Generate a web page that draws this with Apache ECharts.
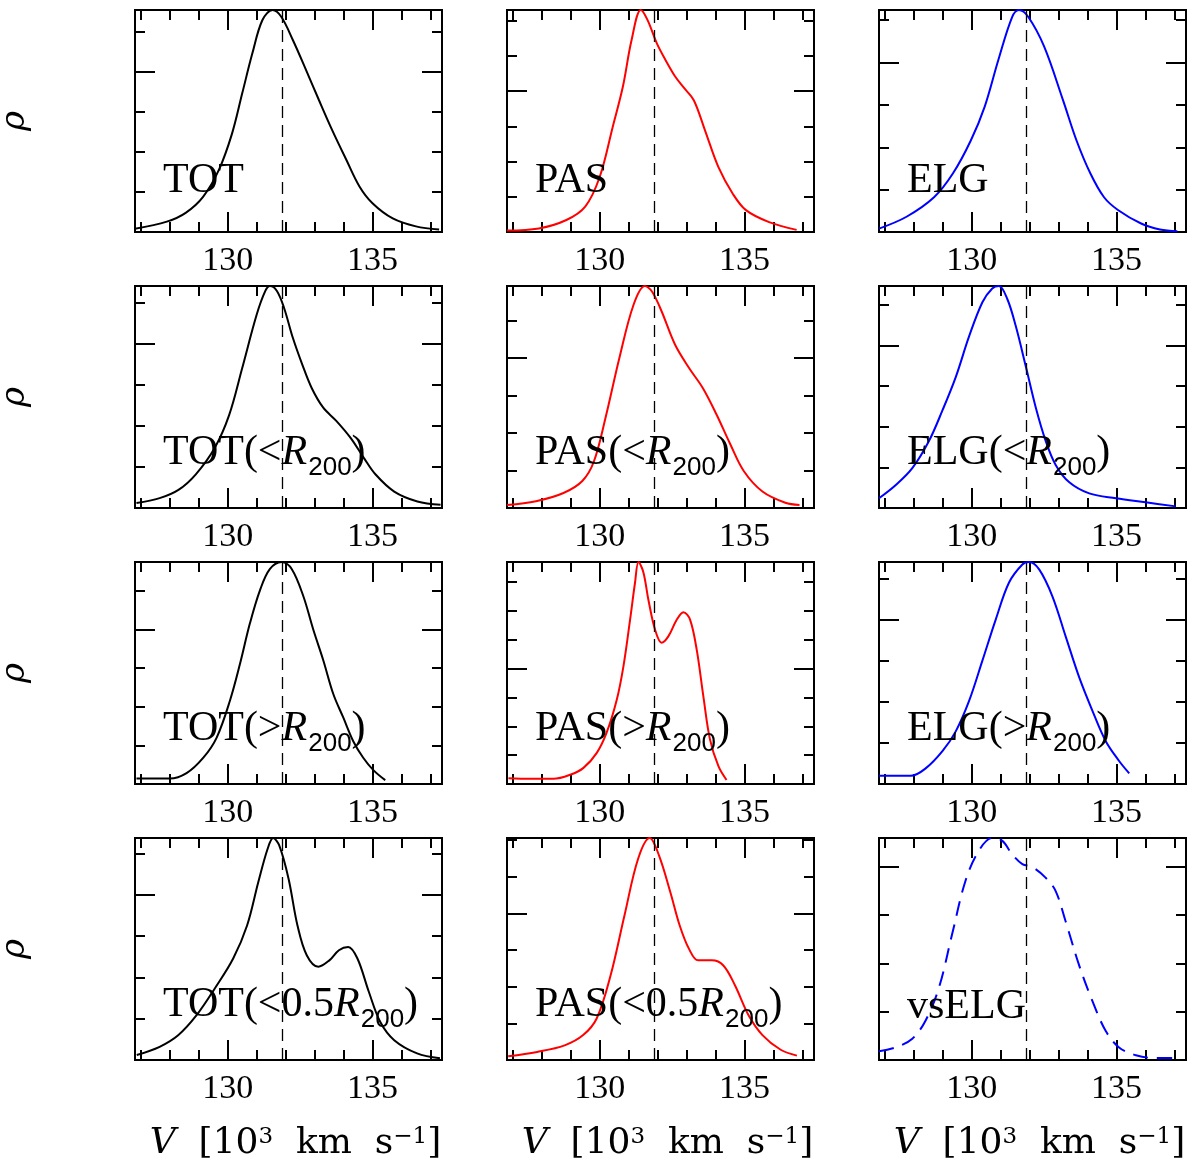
<!DOCTYPE html>
<html>
<head>
<meta charset="utf-8">
<title>Velocity distributions</title>
<style>
  html, body { margin: 0; padding: 0; background: #fff; }
  #chart { width: 1200px; height: 1168px; }
</style>
</head>
<body>
<div id="chart"></div>
<script src="https://cdn.jsdelivr.net/npm/echarts@6.0.0/dist/echarts.min.js"></script>
<script>
// velocity axis [10^3 km/s]
var vMin = 126.8, vMax = 137.4;
var vMean = 131.87;
var vMajorTicks = [130, 135];
var vMinorTicks = [127, 128, 129, 131, 132, 133, 134, 136, 137];

// rho axis: top of each panel (row by row), tick step, long tick step
var rhoMax = [0.2775, 0.315, 0.262, 0.27, 0.296, 0.273, 0.287, 0.385, 0.27, 0.269, 0.303, 0.23];
var rhoStep = 0.05;
var rhoMajorEvery = 4;

var panelNames = [
  '{m|TOT}', '{m|PAS}', '{m|ELG}',
  '{m|TOT(<}{i|R}{s|200}{m|)}', '{m|PAS(<}{i|R}{s|200}{m|)}', '{m|ELG(<}{i|R}{s|200}{m|)}',
  '{m|TOT(>}{i|R}{s|200}{m|)}', '{m|PAS(>}{i|R}{s|200}{m|)}', '{m|ELG(>}{i|R}{s|200}{m|)}',
  '{m|TOT(<0.5}{i|R}{s|200}{m|)}', '{m|PAS(<0.5}{i|R}{s|200}{m|)}', '{m|vsELG}'
];

// density curves
var vTot = [126.8, 127.9, 128.55, 129.15, 129.7, 130.15, 130.5, 130.85, 131.2, 131.55, 131.85, 132.25, 132.7, 133.15, 133.6, 134.1, 134.55, 135.0, 135.7, 136.5, 137.3];
var rhoTot = [0.004, 0.013, 0.024, 0.044, 0.078, 0.123, 0.173, 0.223, 0.265, 0.2775, 0.269, 0.240, 0.203, 0.165, 0.128, 0.090, 0.057, 0.036, 0.017, 0.007, 0.003];

var vPas = [126.8, 127.9, 128.85, 129.5, 130.0, 130.45, 130.8, 131.1, 131.42, 131.65, 131.97, 132.3, 132.6, 132.92, 133.25, 133.63, 134.1, 134.6, 135.05, 135.85, 136.8];
var rhoPas = [0.002, 0.005, 0.017, 0.036, 0.078, 0.149, 0.206, 0.272, 0.315, 0.301, 0.268, 0.242, 0.221, 0.204, 0.187, 0.145, 0.092, 0.054, 0.031, 0.014, 0.003];

var vElg = [126.8, 127.75, 128.7, 129.35, 129.97, 130.45, 130.92, 131.4, 131.63, 131.95, 132.5, 133.15, 133.62, 134.1, 134.57, 135.05, 135.85, 136.5, 137.1];
var rhoElg = [0.004, 0.018, 0.041, 0.069, 0.108, 0.148, 0.203, 0.254, 0.262, 0.254, 0.219, 0.156, 0.108, 0.069, 0.041, 0.026, 0.010, 0.003, 0.001];

var vTotIn = [126.85, 127.65, 128.3, 128.9, 129.55, 130.05, 130.5, 131.0, 131.3, 131.46, 131.7, 131.95, 132.25, 132.57, 132.9, 133.3, 133.75, 134.25, 134.7, 135.1, 135.75, 136.55, 137.35];
var rhoTotIn = [0.006, 0.012, 0.022, 0.041, 0.073, 0.113, 0.170, 0.235, 0.264, 0.270, 0.264, 0.243, 0.207, 0.175, 0.146, 0.122, 0.106, 0.085, 0.061, 0.041, 0.020, 0.008, 0.004];

var vPasIn = [126.8, 127.8, 128.75, 129.4, 129.8, 130.2, 130.68, 131.17, 131.56, 131.8, 132.13, 132.6, 133.08, 133.56, 134.03, 134.51, 134.98, 135.62, 136.41, 136.9];
var rhoPasIn = [0.004, 0.009, 0.020, 0.036, 0.062, 0.120, 0.200, 0.271, 0.296, 0.289, 0.263, 0.218, 0.187, 0.160, 0.125, 0.085, 0.049, 0.022, 0.007, 0.004];

var vElgIn = [126.8, 127.37, 127.95, 128.52, 128.99, 129.45, 129.91, 130.37, 130.71, 130.94, 131.23, 131.52, 131.87, 132.21, 132.56, 132.9, 133.36, 134.06, 134.98, 136.01, 137.05];
var rhoElgIn = [0.012, 0.028, 0.049, 0.082, 0.120, 0.161, 0.211, 0.253, 0.270, 0.273, 0.257, 0.224, 0.174, 0.124, 0.082, 0.053, 0.032, 0.018, 0.012, 0.007, 0.002];

var vTotOut = [126.85, 128.0, 128.58, 129.16, 129.62, 130.08, 130.43, 130.77, 131.12, 131.46, 131.86, 132.21, 132.61, 132.96, 133.3, 133.65, 133.99, 134.34, 134.68, 135.03, 135.44];
var rhoTotOut = [0.007, 0.007, 0.014, 0.034, 0.060, 0.108, 0.156, 0.208, 0.251, 0.278, 0.287, 0.278, 0.243, 0.199, 0.160, 0.116, 0.086, 0.055, 0.034, 0.018, 0.005];

var vPasOut = [126.85, 127.6, 128.4, 128.98, 129.44, 129.9, 130.24, 130.59, 130.82, 131.05, 131.22, 131.34, 131.51, 131.68, 131.91, 132.14, 132.37, 132.66, 132.89, 133.12, 133.35, 133.58, 133.81, 134.1, 134.38];
var rhoPasOut = [0.010, 0.009, 0.009, 0.016, 0.028, 0.054, 0.089, 0.146, 0.204, 0.285, 0.349, 0.385, 0.367, 0.320, 0.268, 0.245, 0.256, 0.285, 0.298, 0.285, 0.233, 0.152, 0.077, 0.031, 0.007];

var vElgOut = [126.8, 127.9, 128.41, 128.99, 129.45, 129.91, 130.37, 130.83, 131.29, 131.75, 131.98, 132.33, 132.79, 133.25, 133.71, 134.17, 134.63, 135.09, 135.44];
var rhoElgOut = [0.010, 0.010, 0.019, 0.040, 0.064, 0.101, 0.150, 0.200, 0.245, 0.267, 0.270, 0.261, 0.228, 0.179, 0.130, 0.089, 0.052, 0.028, 0.013];

var vTotCore = [126.86, 127.65, 128.29, 128.92, 129.56, 130.19, 130.67, 131.06, 131.38, 131.57, 131.78, 132.1, 132.41, 132.73, 133.13, 133.52, 133.84, 134.16, 134.48, 134.87, 135.27, 135.75, 136.54, 137.33];
var rhoTotCore = [0.006, 0.016, 0.030, 0.054, 0.087, 0.123, 0.163, 0.216, 0.256, 0.269, 0.260, 0.220, 0.163, 0.127, 0.113, 0.121, 0.133, 0.137, 0.123, 0.083, 0.046, 0.024, 0.008, 0.002];

var vPasCore = [126.84, 127.84, 128.79, 129.43, 129.9, 130.38, 130.86, 131.33, 131.73, 132.05, 132.44, 132.76, 133.08, 133.4, 133.87, 134.27, 134.67, 135.14, 135.62, 136.25, 136.81];
var rhoPasCore = [0.005, 0.011, 0.020, 0.034, 0.057, 0.116, 0.198, 0.275, 0.303, 0.279, 0.229, 0.184, 0.152, 0.136, 0.136, 0.129, 0.102, 0.061, 0.034, 0.014, 0.006];

var vVsElg = [126.8, 127.37, 127.95, 128.41, 128.87, 129.33, 129.79, 130.25, 130.71, 131.06, 131.4, 131.75, 132.09, 132.55, 132.9, 133.24, 133.7, 134.17, 134.63, 135.09, 135.67, 136.36, 137.05];
var rhoVsElg = [0.009, 0.013, 0.022, 0.041, 0.075, 0.131, 0.186, 0.217, 0.230, 0.227, 0.213, 0.203, 0.200, 0.189, 0.175, 0.144, 0.099, 0.061, 0.030, 0.013, 0.005, 0.002, 0.002];

var curves = [
  [vTot, rhoTot], [vPas, rhoPas], [vElg, rhoElg],
  [vTotIn, rhoTotIn], [vPasIn, rhoPasIn], [vElgIn, rhoElgIn],
  [vTotOut, rhoTotOut], [vPasOut, rhoPasOut], [vElgOut, rhoElgOut],
  [vTotCore, rhoTotCore], [vPasCore, rhoPasCore], [vVsElg, rhoVsElg]
];

// layout
var colLeft = [135, 507, 879], panelW = 307;
var rowTop = [10, 286, 562, 838], panelH = 222;
var colColor = ['#000000', '#ff0000', '#0000ff'];
var labelLift = [72, 72, 72, 76, 76, 76, 76, 76, 76, 76, 76, 74];

var serif = 'Liberation Serif';
// main glyphs hang from the top of the line, the subscript is pushed down by its top padding
var richLabel = {
  m: { fontFamily: serif, fontSize: 42, lineHeight: 46, verticalAlign: 'top', fill: '#000' },
  i: { fontFamily: serif, fontStyle: 'italic', fontSize: 42, lineHeight: 46, verticalAlign: 'top', fill: '#000' },
  s: { fontFamily: 'Liberation Sans', fontSize: 26, lineHeight: 30, padding: [23, 0, 0, 1],
       verticalAlign: 'top', fill: '#000' }
};
var richTitle = {
  i: { fontFamily: 'DejaVu Serif', fontStyle: 'italic', fontSize: 36, lineHeight: 44, verticalAlign: 'top', fill: '#000' },
  m: { fontFamily: 'DejaVu Serif', fontSize: 36, lineHeight: 44, verticalAlign: 'top', fill: '#000' },
  p: { fontFamily: 'DejaVu Serif', fontSize: 23, lineHeight: 26, verticalAlign: 'top', fill: '#000' }
};

function tickAxis(kind, gi, position, ticks, len, ymax, labels) {
  var ax = {
    type: 'value', gridIndex: gi, position: position,
    min: kind === 'x' ? vMin : 0, max: kind === 'x' ? vMax : ymax,
    axisLine: { show: false, onZero: false }, splitLine: { show: false },
    axisTick: { show: true, inside: true, length: len, customValues: ticks,
      lineStyle: { color: '#000', width: 2 } },
    axisLabel: { show: false }
  };
  if (labels) {
    ax.axisLabel = { show: true, customValues: vMajorTicks, margin: 12, color: '#000',
      fontSize: 34, fontFamily: serif };
  }
  return ax;
}

var grids = [], xAxes = [], yAxes = [], series = [], graphics = [];

curves.forEach(function (cv, i) {
  var r = Math.floor(i / 3), c = i % 3;
  grids.push({ left: colLeft[c], top: rowTop[r], width: panelW, height: panelH,
    show: true, borderColor: '#000', borderWidth: 2, backgroundColor: 'transparent' });

  var yMajor = [], yMinor = [];
  for (var k = 1; k * rhoStep < rhoMax[i] - 1e-6; k++) {
    var t = +(k * rhoStep).toFixed(4);
    if (k % rhoMajorEvery === 0) yMajor.push(t); else yMinor.push(t);
  }

  xAxes.push(tickAxis('x', i, 'bottom', vMajorTicks, 20, null, true));
  xAxes.push(tickAxis('x', i, 'bottom', vMinorTicks, 10));
  xAxes.push(tickAxis('x', i, 'top', vMajorTicks, 20));
  xAxes.push(tickAxis('x', i, 'top', vMinorTicks, 10));
  yAxes.push(tickAxis('y', i, 'left', yMajor, 20, rhoMax[i]));
  yAxes.push(tickAxis('y', i, 'left', yMinor, 10, rhoMax[i]));
  yAxes.push(tickAxis('y', i, 'right', yMajor, 20, rhoMax[i]));
  yAxes.push(tickAxis('y', i, 'right', yMinor, 10, rhoMax[i]));

  var dashed = i === 11;
  series.push({
    type: 'line', xAxisIndex: i * 4, yAxisIndex: i * 4,
    data: cv[0].map(function (v, j) { return [v, cv[1][j]]; }),
    smooth: 0.35, showSymbol: false, symbol: 'none', silent: true,
    lineStyle: { color: colColor[c], width: 2, type: dashed ? [15, 9] : 'solid' },
    z: 3,
    markLine: {
      silent: true, symbol: ['none', 'none'], label: { show: false },
      lineStyle: { color: '#000', width: 1.3, type: [12, 7] },
      data: [{ xAxis: vMean }]
    }
  });

  graphics.push({
    type: 'text', x: colLeft[c] + 28, y: rowTop[r] + panelH - labelLift[i], z: 10,
    style: { text: panelNames[i], rich: richLabel, align: 'left', verticalAlign: 'top',
      fontFamily: serif, fontSize: 42, fill: '#000' }
  });

  if (c === 0) {
    graphics.push({
      type: 'text', x: 15, y: rowTop[r] + panelH / 2, rotation: Math.PI / 2, z: 10,
      style: { text: 'ρ', fontFamily: 'DejaVu Serif', fontStyle: 'italic', fontSize: 34,
        align: 'center', verticalAlign: 'middle', fill: '#000' }
    });
  }
  if (r === 3) {
    graphics.push({
      type: 'text', x: colLeft[c] + panelW / 2 + 7, y: 1126, z: 10,
      style: { text: '{i|V}{m|  [10}{p|3}{m|  km  s}{p|−1}{m|]}', rich: richTitle,
        align: 'center', verticalAlign: 'top', fontFamily: 'DejaVu Serif', fontSize: 36, fill: '#000' }
    });
  }
});

var chart = echarts.init(document.getElementById('chart'));
chart.setOption({
  animation: false,
  backgroundColor: '#fff',
  grid: grids,
  xAxis: xAxes,
  yAxis: yAxes,
  series: series,
  graphic: graphics
});
</script>
</body>
</html>
